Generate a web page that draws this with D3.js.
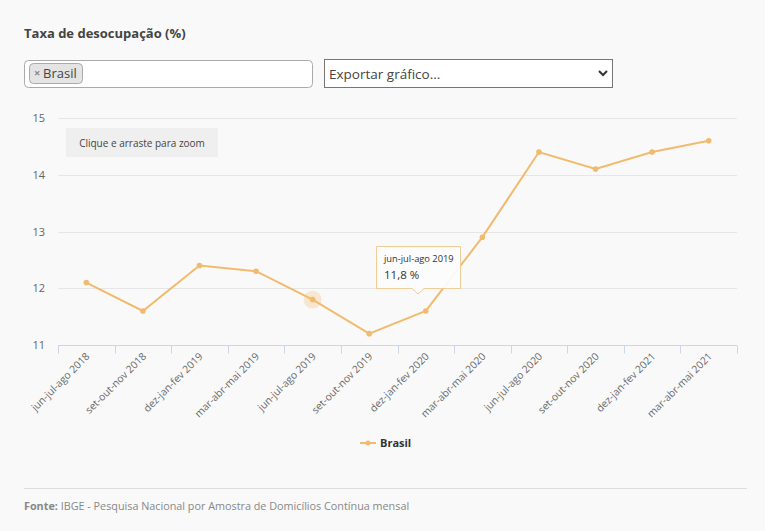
<!DOCTYPE html>
<html><head><meta charset="utf-8">
<script src="https://cdn.jsdelivr.net/npm/d3@7"></script>
<style>
html,body{margin:0;padding:0;background:#f9f9f9;}
svg{display:block;font-family:"Open Sans",sans-serif;}
</style></head>
<body>
<svg id="c" width="765" height="531"></svg>
<script>
const categories = ["jun-jul-ago 2018","set-out-nov 2018","dez-jan-fev 2019","mar-abr-mai 2019","jun-jul-ago 2019","set-out-nov 2019","dez-jan-fev 2020","mar-abr-mai 2020","jun-jul-ago 2020","set-out-nov 2020","dez-jan-fev 2021","mar-abr-mai 2021"];
const brasil = [12.1, 11.6, 12.4, 12.3, 11.8, 11.2, 11.6, 12.9, 14.4, 14.1, 14.4, 14.6];
const yTicks = [11, 12, 13, 14, 15];
const hoverIndex = 4;

(function(){
const svg = d3.select("#c");
const color = "#f1bb6f";

// title
svg.append("text").attr("x",24).attr("y",38).attr("font-size",13).attr("font-weight","bold").attr("fill","#444").text("Taxa de desocupação (%)");

// multiselect box
svg.append("rect").attr("x",24.5).attr("y",60.5).attr("width",288).attr("height",27).attr("rx",4).attr("fill","#fff").attr("stroke","#aaa");
svg.append("rect").attr("x",29.5).attr("y",63.5).attr("width",53).attr("height",20).attr("rx",4).attr("fill","#e4e4e4").attr("stroke","#aaa");
svg.append("text").attr("x",34).attr("y",77).attr("font-size",11).attr("font-weight","bold").attr("fill","#888").text("×");
svg.append("text").attr("x",43).attr("y",78).attr("font-size",13).attr("fill","#444").text("Brasil");

// select
svg.append("rect").attr("x",324.5).attr("y",59.5).attr("width",288).attr("height",28).attr("fill","#fff").attr("stroke","#767676");
svg.append("text").attr("x",329).attr("y",79).attr("font-size",13.5).attr("fill","#444").text("Exportar gráfico...");
svg.append("path").attr("d","M599,71 L603,75 L607,71").attr("fill","none").attr("stroke","#333").attr("stroke-width",2);

// chart
const pL = 58, pR = 737, pT = 118, pB = 345;
const x = d3.scaleBand().domain(categories).range([pL, pR]);
const y = d3.scaleLinear().domain([11, 15]).range([pB, pT]);

const g = svg.append("g");
g.selectAll("line.grid").data(yTicks.filter(d=>d!==11)).join("line")
  .attr("x1",pL).attr("x2",pR).attr("y1",d=>Math.round(y(d))+0.5).attr("y2",d=>Math.round(y(d))+0.5)
  .attr("stroke","#e6e6e6");

// y labels
g.selectAll("text.yl").data(yTicks).join("text")
  .attr("x",45).attr("y",d=>y(d)+4).attr("text-anchor","end").attr("font-size",11).attr("fill","#666").text(d=>d);

// x axis
const xAxis = d3.axisBottom(x).tickSize(8).tickFormat("");
const ax = g.append("g").attr("transform",`translate(0,${pB+0.5})`).call(xAxis);
ax.select(".domain").attr("stroke","#ccd6eb").attr("d",`M${pL},0H${pR}`);
ax.selectAll(".tick").remove();
const edges = categories.map(c=>x(c)).concat([pR]);
ax.selectAll("line.tk").data(edges).join("line").attr("x1",d=>Math.round(d)+0.5).attr("x2",d=>Math.round(d)+0.5).attr("y1",0).attr("y2",8).attr("stroke","#ccd6eb");

g.selectAll("text.xl").data(categories).join("text")
  .attr("transform",d=>`translate(${x(d)+x.bandwidth()/2+4},${pB+12}) rotate(-45)`)
  .attr("text-anchor","end").attr("font-size",10.3).attr("fill","#6a6a6a").text(d=>d);

// zoom hint box
svg.append("rect").attr("x",66).attr("y",128).attr("width",152).attr("height",29).attr("fill","#efefef");
svg.append("text").attr("x",142).attr("y",147).attr("text-anchor","middle").attr("font-size",10).attr("fill","#444").text("Clique e arraste para zoom");

// halo
const cx = i => x(categories[i]) + x.bandwidth()/2;
svg.append("circle").attr("cx",cx(hoverIndex)).attr("cy",y(brasil[hoverIndex])).attr("r",9).attr("fill",color).attr("opacity",0.3);

// line
const line = d3.line().x((d,i)=>cx(i)).y(d=>y(d));
svg.append("path").datum(brasil).attr("d",line).attr("fill","none").attr("stroke",color).attr("stroke-width",2);
svg.selectAll("circle.pt").data(brasil).join("circle").attr("cx",(d,i)=>cx(i)).attr("cy",d=>y(d)).attr("r",2.8).attr("fill",color);

// tooltip
const tt = svg.append("g");
tt.append("path").attr("d","M376.5,246.5 H460.5 V288.5 H424 L418,294 L412,288.5 H376.5 Z").attr("fill","#fcfcfc").attr("fill-opacity",0.92).attr("stroke","#f0cd96");
tt.append("text").attr("x",384).attr("y",262).attr("font-size",9.3).attr("fill","#333").text(categories[hoverIndex]);
tt.append("text").attr("x",384).attr("y",279).attr("font-size",11.5).attr("fill","#333").text(String(brasil[hoverIndex]).replace(".",",")+" %");

// legend
svg.append("line").attr("x1",360).attr("x2",376).attr("y1",443).attr("y2",443).attr("stroke",color).attr("stroke-width",2);
svg.append("circle").attr("cx",368).attr("cy",443).attr("r",2.5).attr("fill",color);
svg.append("text").attr("x",380).attr("y",447).attr("font-size",11).attr("font-weight","bold").attr("fill","#333").text("Brasil");

// footer
svg.append("line").attr("x1",24).attr("x2",747).attr("y1",488.5).attr("y2",488.5).attr("stroke","#ddd");
const ft = svg.append("text").attr("x",24).attr("y",510).attr("font-size",10.8).attr("fill","#888");
ft.append("tspan").attr("font-weight","bold").text("Fonte:");
ft.append("tspan").text(" IBGE - Pesquisa Nacional por Amostra de Domicílios Contínua mensal");
})();
</script>
</body></html>
